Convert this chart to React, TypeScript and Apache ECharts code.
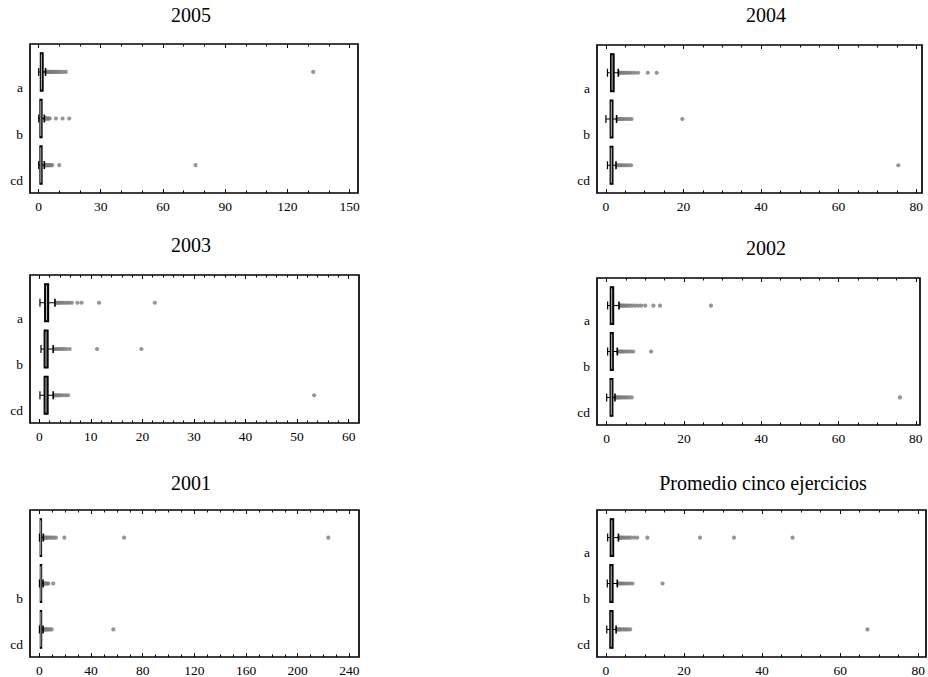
import React, { useEffect, useRef } from 'react';
import * as echarts from 'echarts';

// ---------- DATA ----------
const categories = ['a', 'b', 'cd'];
const panelTitles = ['2005', '2004', '2003', '2002', '2001', 'Promedio cinco ejercicios'];
const labelsDefault = ['a', 'b', 'cd'];
const labels2001 = ['', 'b', 'cd'];

// box statistics per category: [min, q1, median, q3, max]
const box2005 = [
  [0.1, 0.9, 1.4, 2.2, 3.4],
  [0.1, 0.7, 1.1, 1.7, 2.8],
  [0.1, 0.7, 1.1, 1.7, 2.8],
];
const out2005 = [
  [3.6, 3.9, 4.2, 4.6, 5.0, 5.5, 6.0, 6.6, 7.3, 8.0, 8.8, 9.7, 10.6, 11.8, 13.2, 132.4],
  [3.0, 3.2, 3.5, 3.8, 4.1, 4.5, 4.9, 5.4, 8.4, 11.6, 14.8],
  [3.0, 3.3, 3.6, 4.0, 4.4, 4.9, 5.4, 6.0, 6.6, 10.0, 75.7],
];

const box2004 = [
  [0.4, 1.2, 1.6, 2.1, 3.2],
  [0.0, 1.1, 1.4, 1.8, 2.75],
  [0.4, 1.1, 1.4, 1.8, 2.6],
];
const out2004 = [
  [3.4, 3.7, 4.0, 4.4, 4.8, 5.2, 5.7, 6.2, 6.8, 7.5, 8.3, 10.8, 13.1],
  [3.0, 3.3, 3.6, 4.0, 4.4, 4.9, 5.4, 6.0, 6.6, 19.7],
  [2.9, 3.2, 3.5, 3.9, 4.3, 4.8, 5.3, 5.9, 6.5, 75.4],
];

const box2003 = [
  [0.13, 1.05, 1.4, 1.8, 3.04],
  [0.33, 0.95, 1.3, 1.7, 2.7],
  [0.13, 0.95, 1.3, 1.7, 2.7],
];
const out2003 = [
  [3.3, 3.5, 3.7, 4.0, 4.3, 4.6, 5.0, 5.4, 5.8, 6.3, 7.4, 8.2, 11.6, 22.4],
  [2.9, 3.1, 3.4, 3.7, 4.0, 4.4, 4.8, 5.3, 5.9, 11.2, 19.8],
  [2.9, 3.1, 3.3, 3.6, 3.9, 4.2, 4.6, 5.1, 5.6, 53.3],
];

const box2002 = [
  [0.25, 0.95, 1.3, 1.8, 3.2],
  [0.25, 0.95, 1.3, 1.7, 2.75],
  [0.0, 0.9, 1.2, 1.6, 2.15],
];
const out2002 = [
  [3.4, 3.7, 4.0, 4.3, 4.7, 5.1, 5.6, 6.1, 6.7, 7.4, 8.2, 9.0, 10.0, 12.1, 13.8, 27.0],
  [2.9, 3.2, 3.5, 3.8, 4.2, 4.6, 5.1, 5.6, 6.2, 6.9, 11.5],
  [2.3, 2.5, 2.8, 3.1, 3.4, 3.8, 4.2, 4.7, 5.2, 5.8, 6.5, 75.9],
];

const box2001 = [
  [0.1, 0.7, 1.1, 1.7, 3.1],
  [0.1, 0.8, 1.2, 1.8, 2.9],
  [0.1, 0.8, 1.2, 1.8, 2.9],
];
const out2001 = [
  [3.3, 3.8, 4.4, 5.1, 6.0, 7.0, 8.2, 9.6, 11.2, 12.9, 19.4, 65.6, 223.7],
  [3.1, 3.5, 4.0, 4.6, 5.3, 6.1, 7.0, 10.8],
  [3.0, 3.5, 4.0, 4.6, 5.3, 6.1, 7.0, 8.2, 9.6, 57.3],
];

const boxProm = [
  [0.43, 1.1, 1.5, 1.95, 3.2],
  [0.34, 1.0, 1.35, 1.8, 2.9],
  [0.2, 1.0, 1.35, 1.8, 2.6],
];
const outProm = [
  [3.4, 3.7, 4.0, 4.4, 4.8, 5.3, 5.8, 6.4, 7.2, 8.0, 10.6, 24.1, 32.8, 47.8],
  [3.1, 3.4, 3.7, 4.1, 4.5, 5.0, 5.5, 6.1, 6.8, 14.5],
  [2.8, 3.1, 3.4, 3.7, 4.1, 4.6, 5.1, 5.6, 6.2, 67.0],
];

// tick labels
const ticks2005 = [0, 30, 60, 90, 120, 150];
const ticks2004 = [0, 20, 40, 60, 80];
const ticks2003 = [0, 10, 20, 30, 40, 50, 60];
const ticks2002 = [0, 20, 40, 60, 80];
const ticks2001 = [0, 40, 80, 120, 160, 200, 240];
const ticksProm = [0, 20, 40, 60, 80];
const minorSteps = [10, 5, 2, 5, 10, 5];

const panelBoxes = [box2005, box2004, box2003, box2002, box2001, boxProm];
const panelOutliers = [out2005, out2004, out2003, out2002, out2001, outProm];
const panelTicks = [ticks2005, ticks2004, ticks2003, ticks2002, ticks2001, ticksProm];
const panelLabels = [labelsDefault, labelsDefault, labelsDefault, labelsDefault, labels2001, labelsDefault];

// ---------- LAYOUT ----------
const layouts = [
  { left: 30, top: 44, width: 328, height: 149, xMin: -4.1, xMax: 154.0, titleX: 191, titleY: 15 },
  { left: 597, top: 45, width: 325, height: 148, xMin: -2.3, xMax: 81.5, titleX: 766, titleY: 15 },
  { left: 30, top: 275, width: 329, height: 148, xMin: -1.8, xMax: 62.0, titleX: 191, titleY: 245 },
  { left: 597, top: 278, width: 323, height: 147, xMin: -2.5, xMax: 81.1, titleX: 766, titleY: 248 },
  { left: 30, top: 510, width: 329, height: 147, xMin: -7.2, xMax: 247.4, titleX: 191, titleY: 483 },
  { left: 597, top: 510, width: 329, height: 147, xMin: -2.3, xMax: 82.0, titleX: 763, titleY: 483 },
];
const Y_MIN = 0.4;
const Y_MAX = 3.6;
const LABEL_SHIFT = 0.333; // category labels sit ~15px below the box centres

const FONT = 'Liberation Serif';

function buildOption() {
  const grid: any[] = [];
  const xAxis: any[] = [];
  const yAxis: any[] = [];
  const series: any[] = [];
  const graphic: any[] = [];

  panelTitles.forEach((title, i) => {
    const L = layouts[i];
    const ticks = panelTicks[i];
    const step = minorSteps[i];
    const lastTick = ticks[ticks.length - 1];
    const minor: number[] = [];
    for (let k = 0; k * step <= lastTick; k++) {
      const v = k * step;
      if (!ticks.includes(v)) minor.push(v);
    }

    grid.push({
      left: L.left, top: L.top, width: L.width, height: L.height,
      show: true, borderColor: '#000', borderWidth: 1.7, backgroundColor: 'transparent',
    });

    const baseX = {
      type: 'value', gridIndex: i, min: L.xMin, max: L.xMax,
      splitLine: { show: false }, axisLine: { show: false },
    };
    const base = i * 4;
    xAxis.push({
      ...baseX, position: 'bottom',
      axisTick: { show: true, inside: true, length: 4, customValues: ticks, lineStyle: { color: '#000', width: 1 } },
      axisLabel: {
        show: true, customValues: ticks, margin: 6, fontFamily: FONT, fontSize: 13.5, color: '#000',
      },
    });
    xAxis.push({
      ...baseX, position: 'bottom',
      axisTick: { show: true, inside: true, length: 2.5, customValues: minor, lineStyle: { color: '#000', width: 1 } },
      axisLabel: { show: false },
    });
    xAxis.push({
      ...baseX, position: 'top',
      axisTick: { show: true, inside: true, length: 4, customValues: ticks, lineStyle: { color: '#000', width: 1 } },
      axisLabel: { show: false },
    });
    xAxis.push({
      ...baseX, position: 'top',
      axisTick: { show: true, inside: true, length: 2.5, customValues: minor, lineStyle: { color: '#000', width: 1 } },
      axisLabel: { show: false },
    });

    // data axis (hidden)
    yAxis.push({
      type: 'value', gridIndex: i, inverse: true, min: Y_MIN, max: Y_MAX, position: 'left',
      splitLine: { show: false }, axisLine: { show: false }, axisTick: { show: false },
      axisLabel: { show: false },
    });
    // label axis, shifted so the names sit below the boxes
    const labs = panelLabels[i];
    yAxis.push({
      type: 'value', gridIndex: i, inverse: true, position: 'left',
      min: Y_MIN - LABEL_SHIFT, max: Y_MAX - LABEL_SHIFT,
      splitLine: { show: false }, axisLine: { show: false }, axisTick: { show: false },
      axisLabel: {
        show: true,
        customValues: categories.map((_, ci) => ci + 1),
        formatter: (v: number) => labs[Math.round(v) - 1] || '',
        margin: 7, fontFamily: FONT, fontSize: 13.5, color: '#000',
      },
    });
    const yData = i * 2;

    const outs: number[][] = [];
    panelOutliers[i].forEach((arr, ci) => arr.forEach((v) => outs.push([v, ci + 1])));
    series.push({
      type: 'scatter', xAxisIndex: base, yAxisIndex: yData, data: outs,
      symbol: 'circle', symbolSize: 4.2, silent: true,
      itemStyle: { color: '#7c7c7c' }, z: 2,
    });

    series.push({
      type: 'custom', xAxisIndex: base, yAxisIndex: yData, z: 3, silent: true,
      data: panelBoxes[i].map((b, ci) => [ci + 1, ...b]),
      encode: { x: [1, 2, 3, 4, 5], y: 0 },
      renderItem: (params: any, api: any) => {
        const c = api.value(0);
        const pMin = api.coord([api.value(1), c]);
        const pQ1 = api.coord([api.value(2), c]);
        const pMed = api.coord([api.value(3), c]);
        const pQ3 = api.coord([api.value(4), c]);
        const pMax = api.coord([api.value(5), c]);
        const h = Math.abs(api.size([0, 0.82])[1]);
        const y = pMin[1];
        const cap = 4;
        const black = '#000';
        return {
          type: 'group',
          children: [
            { type: 'line', shape: { x1: pMin[0], y1: y, x2: pMax[0], y2: y }, style: { stroke: black, lineWidth: 1 } },
            { type: 'line', shape: { x1: pMin[0], y1: y - cap, x2: pMin[0], y2: y + cap }, style: { stroke: black, lineWidth: 1.2 } },
            { type: 'line', shape: { x1: pMax[0], y1: y - cap, x2: pMax[0], y2: y + cap }, style: { stroke: black, lineWidth: 1.6 } },
            {
              type: 'rect',
              shape: { x: pQ1[0], y: y - h / 2, width: pQ3[0] - pQ1[0], height: h },
              style: { fill: '#111', stroke: black, lineWidth: 1.2 },
            },
            { type: 'line', shape: { x1: pMed[0], y1: y - h / 2 + 1.5, x2: pMed[0], y2: y + h / 2 - 1.5 }, style: { stroke: '#fff', lineWidth: 0.7 } },
          ],
        };
      },
    });

    graphic.push({
      type: 'text', x: L.titleX, y: L.titleY, silent: true,
      style: {
        text: title, fontFamily: FONT, fontSize: 20, fill: '#000',
        textAlign: 'center', textVerticalAlign: 'middle',
      },
    });
  });

  return {
    animation: false,
    backgroundColor: '#fff',
    grid, xAxis, yAxis, series, graphic,
  };
}

export default function App() {
  const ref = useRef<HTMLDivElement>(null);
  useEffect(() => {
    if (!ref.current) return;
    const chart = echarts.init(ref.current, null, { renderer: 'svg' });
    chart.setOption(buildOption() as any);
    return () => chart.dispose();
  }, []);
  return (
    <div
      ref={ref}
      style={{ position: 'fixed', left: 0, top: 0, width: 928, height: 677, background: '#fff' }}
    />
  );
}
